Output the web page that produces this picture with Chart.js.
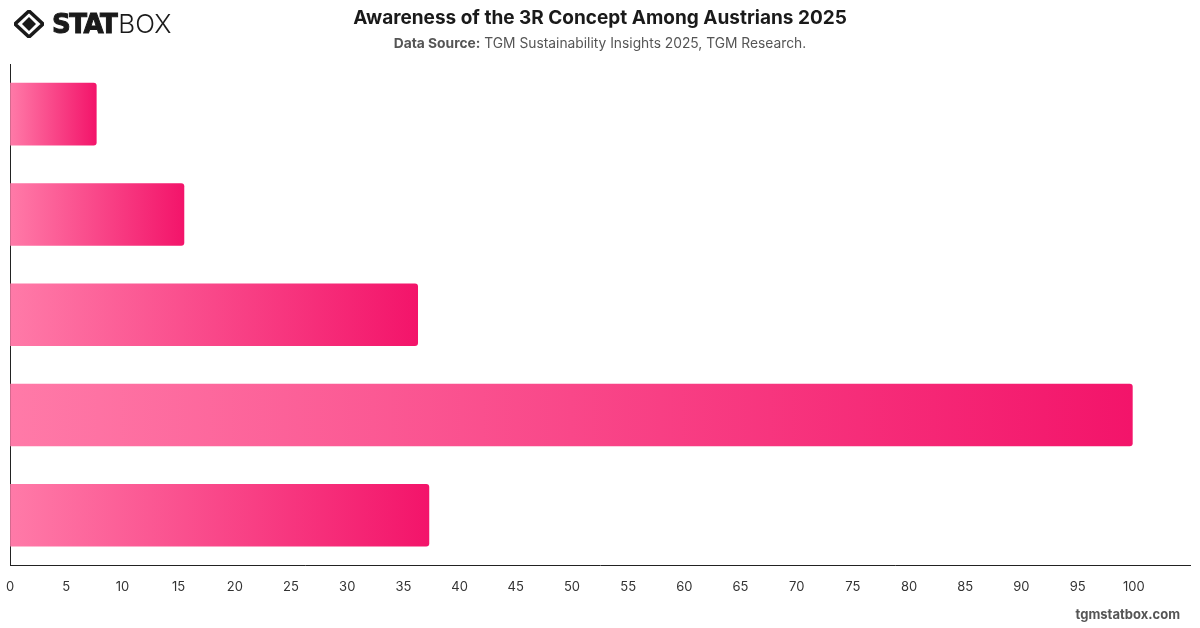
<!DOCTYPE html>
<html>
<head>
<meta charset="utf-8">
<script src="https://cdn.jsdelivr.net/npm/chart.js@4"></script>
<style>
  body { margin: 0; background: #fff; font-family: Inter, "Noto Sans", sans-serif; }
  #wrap { position: relative; width: 1200px; height: 628px; overflow: hidden; }
  #logo { position: absolute; left: 14px; top: 8px; display: flex; align-items: center; }
  #logo .stat { font-family: "DejaVu Sans", sans-serif; font-weight: 900; font-size: 26px; letter-spacing: -1.5px; color: #1a1a1a; margin-left: 8px; -webkit-text-stroke: 1px #1a1a1a; }
  #logo .box { font-family: Inter, sans-serif; font-weight: 300; font-size: 26px; color: #1a1a1a; margin-left: 2px; }
  #title { position: absolute; top: 6px; left: 0; width: 1200px; text-align: center; font-size: 19px; font-weight: 700; color: #1a1a1a; }
  #sub { position: absolute; top: 35px; left: 0; width: 1200px; text-align: center; font-size: 13.8px; color: #555; }
  #sub b { color: #555; }
  #foot { position: absolute; right: 20px; top: 606px; font-size: 13px; font-weight: 700; color: #555; }
  #chartBox { position: absolute; left: 0; top: 0; width: 1200px; height: 628px; }
</style>
</head>
<body>
<div id="wrap">
  <div id="chartBox"><canvas id="awareChart"></canvas></div>
  <div id="logo">
    <svg width="30" height="28" viewBox="0 0 30 28">
      <path d="M15 1 L29 14 L15 27 L1 14 Z" fill="none" stroke="#1a1a1a" stroke-width="3.5"/>
      <path d="M15 7 L22 14 L15 21 L8 14 Z" fill="#1a1a1a"/>
    </svg>
    <span class="stat">STAT</span><span class="box">BOX</span>
  </div>
  <div id="title">Awareness of the 3R Concept Among Austrians 2025</div>
  <div id="sub"><b>Data Source:</b> TGM Sustainability Insights 2025, TGM Research.</div>
  <div id="foot">tgmstatbox.com</div>
</div>
<script>
const categories = ["Know it very well", "Know it well", "Know it somewhat", "Heard of it", "Never heard of it"];
const awareness = [7.7, 15.5, 36.3, 99.9, 37.3];
const xTicksMax = 105;

function barGradient(context) {
    const chart = context.chart;
    const area = chart.chartArea;
    if (!area || !chart.scales.x) return "#f7407f";
    const x = chart.scales.x;
    const start = x.getPixelForValue(0);
    const end = x.getPixelForValue(context.raw);
    const g = chart.ctx.createLinearGradient(start, 0, Math.max(end, start + 1), 0);
    g.addColorStop(0, "#ff7aa8");
    g.addColorStop(1, "#f3146a");
    return g;
}

document.addEventListener("DOMContentLoaded", function() {
    const ctx = document.getElementById("awareChart").getContext("2d");
    new Chart(ctx, {
        type: "bar",
        data: {
            labels: categories,
            datasets: [{
                data: awareness,
                backgroundColor: barGradient,
                borderRadius: 3,
                borderSkipped: "start",
                categoryPercentage: 0.8,
                barPercentage: 0.78
            }]
        },
        options: {
            indexAxis: "y",
            responsive: true,
            maintainAspectRatio: false,
            animation: false,
            layout: { padding: { left: 2, right: 10, top: 64, bottom: 27 } },
            plugins: { legend: { display: false }, tooltip: { enabled: false } },
            scales: {
                x: {
                    min: 0,
                    max: xTicksMax,
                    grid: { display: false, drawTicks: true, tickLength: 8 },
                    border: { display: true, color: "#222", width: 1 },
                    ticks: {
                        stepSize: 5,
                        padding: 6,
                        color: "#333",
                        font: { family: "Inter", size: 13 },
                        callback: function(v) { return v > 100 ? "" : v; }
                    }
                },
                y: {
                    grid: { display: false },
                    border: { display: true, color: "#222", width: 1 },
                    ticks: { display: false }
                }
            }
        }
    });
});
</script>
</body>
</html>
